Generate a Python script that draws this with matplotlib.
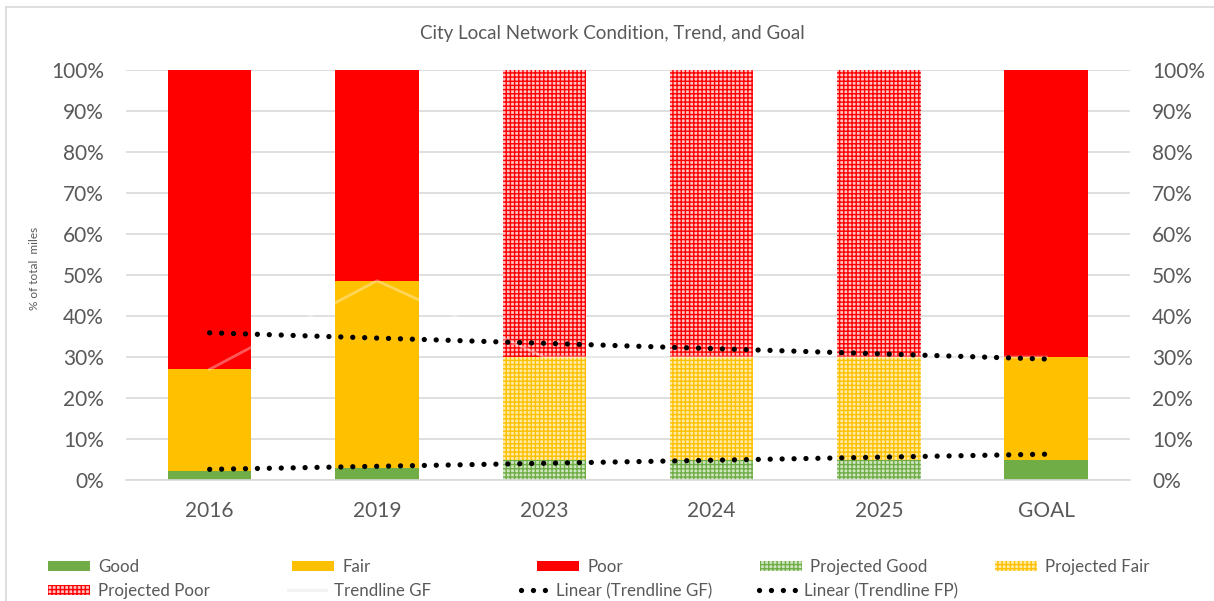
import numpy as np
import matplotlib
matplotlib.use("Agg")
import matplotlib.pyplot as plt
from matplotlib.lines import Line2D
from matplotlib.patches import Patch

plt.rcParams['font.family'] = ['Lato', 'DejaVu Sans']
plt.rcParams['hatch.linewidth'] = 1.0

# data (percent of total miles)
years = ['2016', '2019', '2023', '2024', '2025', 'GOAL']
good = [2.2, 2.9, 0, 0, 0, 5.0]
fair = [24.8, 45.7, 0, 0, 0, 25.0]
poor = [73.0, 51.4, 0, 0, 0, 70.0]
proj_good = [0, 0, 5.0, 5.0, 5.0, 0]
proj_fair = [0, 0, 25.0, 25.0, 25.0, 0]
proj_poor = [0, 0, 70.0, 70.0, 70.0, 0]
trend_gf = [27.0, 48.6, 30.0, 30.0, 30.0, 30.0]
# end points of the two linear trendlines (first year, goal)
linear_gf = [2.6, 6.3]
linear_fp = [35.9, 29.5]

c_good = '#70AD47'
c_fair = '#FFC000'
c_poor = '#FF0000'
grey = '#595959'

fig = plt.figure(figsize=(12.14, 6.01), dpi=100)
ax = fig.add_axes([126 / 1214, 1 - 480 / 601, (1130 - 126) / 1214, (480 - 70) / 601])

x = np.arange(len(years))
w = 0.5

# actual condition bars
ax.bar(x, good, w, color=c_good, linewidth=0, zorder=2)
ax.bar(x, fair, w, bottom=good, color=c_fair, linewidth=0, zorder=2)
ax.bar(x, poor, w, bottom=np.add(good, fair), color=c_poor, linewidth=0, zorder=2)

# projected bars, hatched
pg_face, pf_face, pp_face = '#D0E6C2', '#FFEBA8', '#FFC4C4'
ax.bar(x, proj_good, w, color=pg_face, edgecolor=c_good, hatch='++++', linewidth=0, zorder=2)
ax.bar(x, proj_fair, w, bottom=proj_good, color=pf_face, edgecolor=c_fair,
       hatch='++++', linewidth=0, zorder=2)
ax.bar(x, proj_poor, w, bottom=np.add(proj_good, proj_fair), color=pp_face,
       edgecolor=c_poor, hatch='++++', linewidth=0, zorder=2)

# faint white trendline through good+fair tops
ax.plot(x, trend_gf, color='white', alpha=0.35, linewidth=2, zorder=3)

dot_style = dict(color='black', linewidth=3.8, linestyle=(0, (0.01, 2.25)),
                 dash_capstyle='round', zorder=4)
ax.plot([x[0], x[-1]], linear_gf, **dot_style)
ax.plot([x[0], x[-1]], linear_fp, **dot_style)

ax.set_xlim(-0.5, len(years) - 0.5)
ax.set_ylim(0, 100)
ax.set_yticks(np.arange(0, 101, 10))
ax.set_yticklabels([f'{v}%' for v in range(0, 101, 10)])
ax.set_xticks(x)
ax.set_xticklabels(years)
ax.grid(axis='y', color='#D9D9D9', linewidth=1.2, zorder=0)
ax.set_axisbelow(True)
for s in ['top', 'left', 'right']:
    ax.spines[s].set_visible(False)
ax.spines['bottom'].set_color('#D9D9D9')
ax.spines['bottom'].set_linewidth(1.2)
ax.tick_params(axis='both', length=0, labelsize=15, labelcolor=grey)
ax.tick_params(axis='y', pad=16)
ax.tick_params(axis='x', pad=15)

fig.text(35 / 1214, 1 - 268 / 601, '% of total  miles', rotation=90,
         ha='center', va='center', fontsize=8.5, color=grey)

# right side axis, labels only
ax2 = ax.twinx()
ax2.set_ylim(0, 100)
ax2.set_yticks(np.arange(0, 101, 10))
ax2.set_yticklabels([f'{v}%' for v in range(0, 101, 10)])
ax2.tick_params(axis='y', length=0, labelsize=15, labelcolor=grey, pad=16)
for s in ax2.spines.values():
    s.set_visible(False)

fig.text(612 / 1214, 1 - 33 / 601, 'City Local Network Condition, Trend, and Goal',
         ha='center', va='center', fontsize=13.5, color=grey)

# chart area border
fig.add_artist(Line2D([6 / 1214, 6 / 1214], [0, 1 - 7 / 601], color='#D9D9D9',
                      linewidth=1.2, transform=fig.transFigure))
fig.add_artist(Line2D([6 / 1214, 1], [1 - 7 / 601, 1 - 7 / 601], color='#D9D9D9',
                      linewidth=1.2, transform=fig.transFigure))

# legend, one small legend per entry so it spreads like the original
h_good = Patch(facecolor=c_good)
h_fair = Patch(facecolor=c_fair)
h_poor = Patch(facecolor=c_poor)
h_pgood = Patch(facecolor=pg_face, edgecolor=c_good, hatch='++++', linewidth=0)
h_pfair = Patch(facecolor=pf_face, edgecolor=c_fair, hatch='++++', linewidth=0)
h_ppoor = Patch(facecolor=pp_face, edgecolor=c_poor, hatch='++++', linewidth=0)
h_trend = Line2D([], [], color='#F2F2F2', linewidth=2)
h_lin = Line2D([], [], **dot_style)

leg_fs = 12.2
leg_px = leg_fs * 100 / 72
# (handle left px, handle length px, row centre px, handle, label)
entries = [
    (48, 42, 567, h_good, 'Good'),
    (292, 42, 567, h_fair, 'Fair'),
    (537, 42, 567, h_poor, 'Poor'),
    (760, 42, 567, h_pgood, 'Projected Good'),
    (995, 42, 567, h_pfair, 'Projected Fair'),
    (48, 42, 591, h_ppoor, 'Projected Poor'),
    (288, 38, 591, h_trend, 'Trendline GF'),
    (521, 27, 591, h_lin, 'Linear (Trendline GF)'),
    (759, 37, 591, h_lin, 'Linear (Trendline FP)'),
]
for hx, hl, yc, h, label in entries:
    fig.legend([h], [label], loc='center left', bbox_to_anchor=(hx / 1214, 1 - yc / 601),
               frameon=False, fontsize=leg_fs, labelcolor=grey, borderpad=0,
               borderaxespad=0, handlelength=hl / leg_px, handleheight=0.6,
               handletextpad=0.5)

fig.savefig('out.png', dpi=100)
